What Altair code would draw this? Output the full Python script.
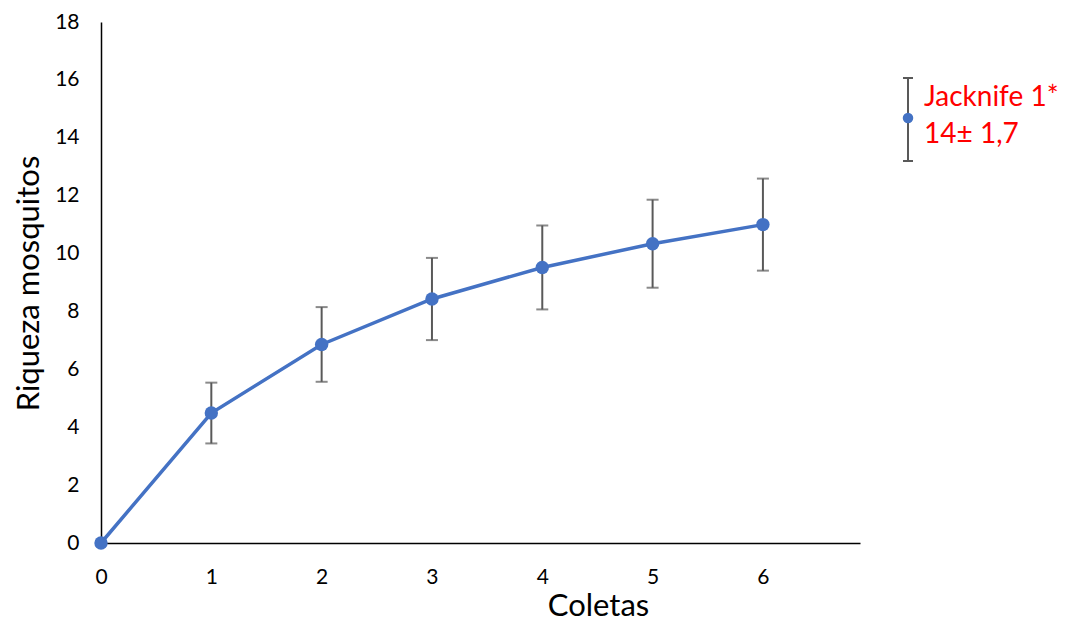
import altair as alt
import pandas as pd

coletas = [0, 1, 2, 3, 4, 5, 6]
riqueza = [0, 4.49, 6.86, 8.43, 9.52, 10.34, 11.0]
erro = [0, 1.05, 1.29, 1.42, 1.45, 1.52, 1.59]
x_ticks = [0, 1, 2, 3, 4, 5, 6]
y_ticks = [0, 2, 4, 6, 8, 10, 12, 14, 16, 18]
legend_lines = ["Jacknife 1*", "14± 1,7"]

df = pd.DataFrame({"Coletas": coletas, "Riqueza": riqueza, "Erro": erro})
df["lo"] = df["Riqueza"] - df["Erro"]
df["hi"] = df["Riqueza"] + df["Erro"]
df_err = df[df["Erro"] > 0]

FONT = "Lato"
BLUE = "#4472C4"
GRAY = "#595959"

xs = alt.Scale(domain=[0, 6.88], nice=False, zero=False)
ys = alt.Scale(domain=[0, 18], nice=False)

x_axis = alt.Axis(values=x_ticks, format="d", grid=False, ticks=False, domainColor="black", domainWidth=1.5,
                  labelFont=FONT, labelFontSize=21, labelColor="black", labelPadding=23,
                  labelBaseline="top", labelFlush=False, title="Coletas", titleFont=FONT, titleFontSize=31,
                  titleFontWeight="normal", titleColor="black", titleX=497, titleY=72,
                  titleBaseline="alphabetic", titleAlign="center")
y_axis = alt.Axis(values=y_ticks, format="d", grid=False, ticks=False, domainColor="black", domainWidth=1.5,
                  labelFont=FONT, labelFontSize=21, labelColor="black", labelPadding=22,
                  title="Riqueza mosquitos", titleFont=FONT, titleFontSize=31,
                  titleFontWeight="normal", titleColor="black", titleX=-72, titleY=261,
                  titleAngle=-90, titleAlign="center", titleBaseline="middle")

base = alt.Chart(df)

rule = alt.Chart(df_err).mark_rule(color=GRAY, strokeWidth=2).encode(
    x=alt.X("Coletas:Q", scale=xs, axis=x_axis),
    y=alt.Y("lo:Q", scale=ys, axis=y_axis),
    y2="hi:Q",
)
cap_hi = alt.Chart(df_err).mark_tick(color=GRAY, orient="horizontal", size=12, thickness=2).encode(
    x=alt.X("Coletas:Q", scale=xs), y=alt.Y("hi:Q", scale=ys))
cap_lo = alt.Chart(df_err).mark_tick(color=GRAY, orient="horizontal", size=12, thickness=2).encode(
    x=alt.X("Coletas:Q", scale=xs), y=alt.Y("lo:Q", scale=ys))

line = base.mark_line(color=BLUE, strokeWidth=3.5).encode(
    x=alt.X("Coletas:Q", scale=xs), y=alt.Y("Riqueza:Q", scale=ys))
pts = base.mark_circle(color=BLUE, size=180, opacity=1).encode(
    x=alt.X("Coletas:Q", scale=xs), y=alt.Y("Riqueza:Q", scale=ys))

# legend decoration
leg_df = pd.DataFrame({"label": [legend_lines[0]]})
leg = alt.Chart(leg_df)
leg_rule = leg.mark_rule(color=GRAY, strokeWidth=2).encode(
    x=alt.value(807), y=alt.value(56), y2=alt.value(139))
leg_cap1 = leg.mark_rule(color=GRAY, strokeWidth=2).encode(
    x=alt.value(802), x2=alt.value(812), y=alt.value(56))
leg_cap2 = leg.mark_rule(color=GRAY, strokeWidth=2).encode(
    x=alt.value(802), x2=alt.value(812), y=alt.value(139))
leg_dot = leg.mark_circle(color=BLUE, size=110, opacity=1).encode(
    x=alt.value(807), y=alt.value(96))
leg_t1 = leg.mark_text(text=legend_lines[0], font=FONT, fontSize=28, color="#FF0000",
                       align="left", baseline="alphabetic").encode(x=alt.value(823), y=alt.value(84))
leg_t2 = leg.mark_text(text=legend_lines[1], font=FONT, fontSize=28, color="#FF0000",
                       align="left", baseline="alphabetic").encode(x=alt.value(823), y=alt.value(121))

chart = alt.layer(rule, cap_hi, cap_lo, line, pts,
                  leg_rule, leg_cap1, leg_cap2, leg_dot, leg_t1, leg_t2).properties(
    width=759, height=521,
    autosize=alt.AutoSizeParams(type="none"),
    padding={"left": 93, "top": 14, "right": 208, "bottom": 80},
    background="white",
).configure_view(stroke=None)

chart.save("out.html", embed_options={"renderer": "svg", "actions": False})
